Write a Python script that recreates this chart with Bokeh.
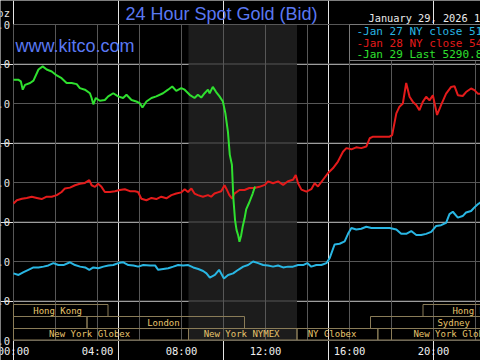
from bokeh.plotting import figure
from bokeh.models import BoxAnnotation, ColumnDataSource, Range1d
from bokeh.core.properties import value
from bokeh.embed import file_html
from bokeh.resources import INLINE

# ---- data: hours after 00:00 NY time, spot gold bid in USD/oz ----
jan27_hours = [0.00, 0.24, 0.48, 0.71, 0.95, 1.19, 1.43, 1.66, 1.90, 2.14, 2.38, 2.69, 2.93, 3.17,
               3.41, 3.61, 3.80, 4.04, 4.28, 4.52, 4.75, 4.99, 5.23, 5.47, 5.71, 5.94, 6.18, 6.50,
               6.74, 6.89, 7.13, 7.37, 7.61, 7.84, 8.08, 8.32, 8.56, 8.80, 9.03, 9.19, 9.35, 9.59,
               9.79, 10.02, 10.22, 10.46, 10.70, 10.94, 11.17, 11.41, 11.65, 11.89, 12.12, 12.36,
               12.60, 12.84, 13.07, 13.31, 13.55, 13.79, 13.99, 14.18, 14.42, 14.66, 14.90, 15.06,
               15.29, 15.53, 15.77, 15.93, 16.09, 16.32, 16.56, 16.80, 17.04, 17.27, 17.59, 17.91,
               18.23, 18.46, 18.70, 18.94, 19.18, 19.41, 19.65, 19.89, 20.13, 20.36, 20.60, 20.76,
               20.92, 21.16, 21.39, 21.55, 21.79, 21.95, 22.11, 22.25]
jan27_price = [5070, 5066, 5073, 5079, 5085, 5085, 5087, 5090, 5096, 5091, 5091, 5098, 5091, 5087,
               5085, 5079, 5085, 5083, 5087, 5090, 5091, 5096, 5098, 5091, 5090, 5087, 5091, 5090,
               5090, 5079, 5081, 5083, 5087, 5091, 5090, 5091, 5085, 5081, 5076, 5070, 5059, 5066,
               5079, 5057, 5066, 5070, 5079, 5087, 5091, 5100, 5096, 5091, 5090, 5087,
               5090, 5085, 5087, 5087, 5091, 5091, 5096, 5087, 5091, 5091, 5096, 5109,
               5143, 5145, 5151, 5170, 5185, 5181, 5183, 5188, 5185, 5185, 5185, 5185,
               5181, 5170, 5170, 5177, 5167, 5167, 5170, 5175, 5190, 5192, 5198, 5220,
               5226, 5211, 5215, 5224, 5228, 5237, 5245, 5250]

jan28_hours = [0.00, 0.16, 0.40, 0.63, 0.87, 1.11, 1.34, 1.58, 1.82, 2.06, 2.29, 2.45, 2.69, 2.93,
               3.16, 3.40, 3.61, 3.72, 3.88, 4.03, 4.19, 4.35, 4.59, 4.83, 5.06, 5.30, 5.54, 5.78,
               5.93, 6.09, 6.33, 6.57, 6.80, 7.04, 7.28, 7.52, 7.75, 7.99, 8.15, 8.31, 8.47, 8.62,
               8.78, 9.02, 9.26, 9.41, 9.57, 9.73, 9.89, 10.05, 10.13, 10.28, 10.41, 10.52, 10.76,
               11.00, 11.23, 11.47, 11.71, 11.97, 12.12, 12.36, 12.60, 12.84, 13.07, 13.31, 13.44,
               13.55, 13.71, 13.95, 14.18, 14.34, 14.50, 14.74, 14.98, 15.21, 15.45, 15.69, 15.85,
               16.09, 16.32, 16.56, 16.80, 16.96, 17.12, 17.27, 17.59, 17.91, 18.03, 18.23, 18.38,
               18.54, 18.70, 18.86, 19.02, 19.18, 19.33, 19.49, 19.65, 19.81, 19.97, 20.17, 20.36,
               20.60, 20.84, 21.00, 21.16, 21.39, 21.55, 21.79, 21.95, 22.11, 22.25]
jan28_price = [5247, 5255, 5259, 5261, 5264, 5261, 5258, 5264, 5264, 5268, 5276, 5285, 5287, 5293,
               5297, 5299, 5306, 5293, 5289, 5297, 5289, 5276, 5276, 5278, 5281, 5283, 5278, 5278,
               5276, 5259, 5255, 5261, 5258, 5264, 5260, 5268, 5272, 5275, 5283, 5276, 5285, 5272,
               5268, 5264, 5268, 5264, 5272, 5275, 5278, 5293, 5285, 5268, 5259, 5272, 5281,
               5281, 5286, 5286, 5289, 5294, 5303, 5298, 5303, 5294, 5303, 5307, 5319,
               5298, 5282, 5277, 5283, 5298, 5290, 5307, 5324, 5336, 5353, 5378, 5387,
               5384, 5389, 5387, 5391, 5412, 5416, 5416, 5416, 5416, 5420, 5475, 5492,
               5500, 5552, 5517, 5504, 5496, 5483, 5504, 5517, 5508, 5521, 5471, 5496,
               5525, 5542, 5544, 5521, 5519, 5529, 5538, 5534, 5525, 5525]

jan29_hours = [0.00, 0.24, 0.35, 0.44, 0.55, 0.79, 0.95, 1.19, 1.39, 1.58, 1.82, 2.06, 2.29, 2.53,
               2.77, 3.01, 3.16, 3.40, 3.64, 3.72, 3.80, 3.92, 4.11, 4.35, 4.51, 4.75, 4.98, 5.22,
               5.38, 5.62, 5.85, 6.01, 6.14, 6.33, 6.57, 6.80, 7.12, 7.36, 7.56, 7.75, 7.99, 8.15,
               8.39, 8.62, 8.78, 8.94, 9.10, 9.26, 9.34, 9.49, 9.65, 9.81, 9.97, 10.09, 10.21,
               10.30, 10.40, 10.47, 10.55, 10.62, 10.70, 10.76, 10.84, 10.92, 11.00, 11.08, 11.23,
               11.39, 11.50]
jan29_price = [5560, 5560, 5556, 5535, 5547, 5552, 5558, 5586, 5594, 5586, 5581, 5571, 5564, 5552,
               5552, 5549, 5539, 5535, 5526, 5514, 5498, 5514, 5507, 5509, 5518, 5526, 5518, 5514,
               5522, 5509, 5505, 5501, 5490, 5505, 5514, 5518, 5526, 5535, 5543, 5532, 5539, 5535,
               5522, 5514, 5522, 5515, 5526, 5535, 5526, 5542, 5529, 5518, 5505, 5475, 5429,
               5370, 5345, 5260, 5205, 5180, 5166, 5150, 5166, 5190, 5208, 5232, 5250,
               5272, 5290]

# trading sessions drawn in the bottom strip: label, start hour, end hour, row (1 = top)
session_label = ["Hong Kong", "Hong Kong", "", "London", "Sydney",
                 "New York Globex", "New York NYMEX", "NY Globex", "", "New York Globex"]
session_start = [0.0, 19.5, 0.0, 3.5, 17.0, 0.0, 8.333, 13.5, 17.35, 18.0]
session_end = [4.5, 28.5, 3.5, 11.0, 27.0, 8.333, 13.5, 17.35, 18.0, 26.0]
session_row = [1, 1, 2, 2, 2, 3, 3, 3, 3, 3]
session_label_hour = [2.1, 22.06, 1.75, 7.14, 20.96, 3.62, 10.86, 15.17, 17.7, 20.98]

nymex_open, nymex_close = 8.333, 13.5

y_ticks = [4900, 5000, 5100, 5200, 5300, 5400, 5500, 5600, 5700]
x_ticks = [0, 4, 8, 12, 16, 20]
x_tick_labels = ["00:00", "04:00", "08:00", "12:00", "16:00", "20:00"]
x_grid = [0, 2, 4, 6, 8, 10, 12, 14, 16, 18, 20, 22]

legend_text = ["-Jan 27 NY close 5185.10", "-Jan 28 NY close 5416.20", "-Jan 29 Last 5290.80"]
header_date = "January 29, 2026 11:32 NY Time"
title_text = "24 Hour Spot Gold (Bid)"
site_text = "www.kitco.com"
unit_text = "$/oz"

# ---- layout helpers: the plot frame fills the whole picture, so that the
# axis texts can sit beside the price area and be cut by the picture edge ----
W, H = 480, 360
X0_PX, PX_PER_HOUR = 13, 21.0          # where 00:00 sits, pixels per hour
Y_TOP_PX, PX_PER_USD = 24, 0.395       # where 5700 sits, pixels per dollar
Y_TOP = y_ticks[-1]
Y_BOT = y_ticks[0]


def hx(px):
    return (px - X0_PX) / PX_PER_HOUR


def py(px):
    return Y_TOP - (px - Y_TOP_PX) / PX_PER_USD


T_END = hx(W)

BLUE, RED, GREEN = "#29b6e3", "#e41b1b", "#2fe02f"
TITLE_BLUE = "#5a78f2"
MONO = value("DejaVu Sans Mono")
SANS = value("Liberation Sans")

p = figure(width=W, height=H, output_backend="svg", toolbar_location=None,
           x_range=Range1d(hx(0), hx(W)), y_range=Range1d(py(H), py(0)),
           x_axis_location=None, y_axis_location=None,
           min_border=0, min_border_left=0, min_border_right=0, min_border_top=0,
           min_border_bottom=0,
           background_fill_color="black", border_fill_color="black", outline_line_color=None)

# NYMEX trading hours shading
p.add_layout(BoxAnnotation(left=nymex_open, right=nymex_close, bottom=Y_BOT, top=Y_TOP,
                           fill_color="#1c1c1c", fill_alpha=1, line_color=None,
                           level="underlay"))

# grid
p.segment(x0=x_grid, x1=x_grid, y0=[Y_BOT] * len(x_grid), y1=[Y_TOP] * len(x_grid),
          line_color="#575757", line_width=1)
p.segment(x0=[0] * len(y_ticks), x1=[T_END + 1] * len(y_ticks), y0=y_ticks, y1=y_ticks,
          line_color="#575757", line_width=1)

# session boxes
row_top = {1: py(304), 2: py(316), 3: py(328)}
row_bottom = {1: py(316), 2: py(328), 3: py(339.5)}
sess = ColumnDataSource(dict(
    left=session_start, right=session_end,
    top=[row_top[r] for r in session_row], bottom=[row_bottom[r] for r in session_row],
    x=session_label_hour, y=[(row_top[r] + row_bottom[r]) / 2 for r in session_row],
    text=session_label))
p.quad(left="left", right="right", top="top", bottom="bottom", source=sess,
       fill_alpha=0, line_color="#8a7c58", line_width=1)
p.text(x="x", y="y", text="text", source=sess, text_font=MONO, text_font_size="9px",
       text_color="#e8c56c", text_align="center", text_baseline="middle")

# price lines
p.line(jan27_hours, jan27_price, line_color=BLUE, line_width=2)
p.line(jan28_hours, jan28_price, line_color=RED, line_width=2)
p.line(jan29_hours, jan29_price, line_color=GREEN, line_width=2)

# legend box
p.quad(left=[16.0], right=[T_END + 5], top=[Y_TOP], bottom=[py(60)], fill_color="black",
       line_color="#7a7a7a", line_width=1)
leg = ColumnDataSource(dict(x=[hx(356)] * 3, y=[py(31), py(42.5), py(54)], text=legend_text,
                            color=[BLUE, RED, GREEN]))
p.text(x="x", y="y", text="text", text_color="color", source=leg, text_font=MONO,
       text_font_size="11px", text_align="left", text_baseline="middle")

# y tick labels (cut by the left picture edge, as in the reference)
p.text(x=[hx(9.5)] * len(y_ticks), y=y_ticks, text=[f"{v:.1f}" for v in y_ticks],
       text_font=MONO, text_font_size="10.5px", text_color="#e6e6e6",
       text_align="right", text_baseline="middle")
p.text(x=[hx(9.5)], y=[py(12)], text=[unit_text], text_font=MONO, text_font_size="10.5px",
       text_color="#e6e6e6", text_align="right", text_baseline="middle")

# x tick labels
p.text(x=x_ticks, y=[py(350)] * len(x_ticks), text=x_tick_labels, text_font=MONO,
       text_font_size="10.5px", text_color="#f0f0f0", text_align="center",
       text_baseline="middle")

# titles
p.text(x=[hx(221)], y=[py(13.5)], text=[title_text], text_font=SANS, text_font_size="18px",
       text_color=TITLE_BLUE, text_align="center", text_baseline="middle")
p.text(x=[hx(15)], y=[py(45)], text=[site_text], text_font=SANS, text_font_size="18px",
       text_color=TITLE_BLUE, text_align="left", text_baseline="middle")
p.text(x=[hx(368)], y=[py(17.5)], text=[header_date], text_font=MONO, text_font_size="10.3px",
       text_color="#ececec", text_align="left", text_baseline="middle")

open("out.html", "w").write(file_html(p, INLINE))
